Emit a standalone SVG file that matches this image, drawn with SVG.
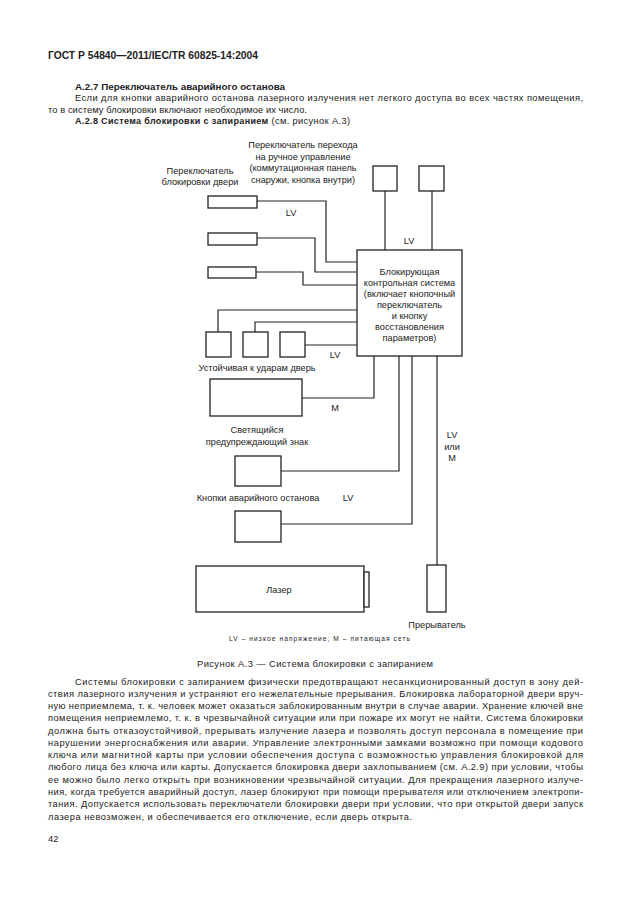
<svg xmlns="http://www.w3.org/2000/svg" width="630" height="913" viewBox="0 0 630 913">
<style>
text{font-family:"Liberation Sans","Noto Sans",sans-serif;fill:#222}
.h{font-size:10.5px;font-weight:bold}
.b{font-size:9px;font-weight:bold}
.t{font-size:9.3px}
.d{font-size:9.2px;text-anchor:middle}
.lg{font-size:6.6px}
.cap{font-size:9.4px;text-anchor:middle}
.box{fill:#fff;stroke:#222;stroke-width:1.3}
.w{fill:none;stroke:#222;stroke-width:1.2}
</style>
<rect width="630" height="913" fill="#fff"/>
<g id="header">
<text class="h" x="48" y="59" textLength="210" lengthAdjust="spacingAndGlyphs">ГОСТ Р 54840—2011/IEC/TR 60825-14:2004</text>
<text class="b" x="75" y="89.5" textLength="210" lengthAdjust="spacingAndGlyphs">А.2.7 Переключатель аварийного останова</text>
<text class="t" x="75" y="101" textLength="508" lengthAdjust="spacing">Если для кнопки аварийного останова лазерного излучения нет легкого доступа во всех частях помещения,</text>
<text class="t" x="48" y="112.5" textLength="259" lengthAdjust="spacing">то в систему блокировки включают необходимое их число.</text>
<text x="75" y="124" textLength="275" lengthAdjust="spacing"><tspan class="b">А.2.8 Система блокировки с запиранием</tspan><tspan class="t"> (см. рисунок А.3)</tspan></text>
</g>
<g id="connectors">
<polyline class="w" points="385,191 385,250"/>
<polyline class="w" points="432,191 432,250"/>
<polyline class="w" points="257,201 326,201 326,262 357,262"/>
<polyline class="w" points="257,238 315,238 315,272 357,272"/>
<polyline class="w" points="256,272 303,272 303,285 357,285"/>
<polyline class="w" points="218,332 218,310 357,310"/>
<polyline class="w" points="255,332 255,322 357,322"/>
<polyline class="w" points="305,345 357,345"/>
<polyline class="w" points="374,356 374,398 302,398"/>
<polyline class="w" points="399,356 399,471 281,471"/>
<polyline class="w" points="412,356 412,524 281,524"/>
<polyline class="w" points="437,356 437,565"/>
</g>
<g id="override-switch-1"><rect class="box" x="373" y="166" width="24" height="25"/></g>
<g id="override-switch-2"><rect class="box" x="419" y="166" width="25" height="25"/></g>
<g id="override-label">
<text class="d" x="303" y="148">Переключатель перехода</text>
<text class="d" x="303" y="159.5">на ручное управление</text>
<text class="d" x="303" y="171">(коммутационная панель</text>
<text class="d" x="303" y="182.5">снаружи, кнопка внутри)</text>
</g>
<g id="door-switch-label">
<text class="d" x="200" y="173.5">Переключатель</text>
<text class="d" x="200" y="185">блокировки двери</text>
</g>
<g id="door-switch-1"><rect class="box" x="208" y="196" width="49" height="12"/></g>
<g id="door-switch-2"><rect class="box" x="208" y="233" width="49" height="12"/></g>
<g id="door-switch-3"><rect class="box" x="208" y="267" width="48" height="11"/></g>
<g id="control-system">
<rect class="box" x="357" y="250" width="105" height="106"/>
<text class="d" x="409.5" y="274.5">Блокирующая</text>
<text class="d" x="409.5" y="285.5">контрольная система</text>
<text class="d" x="409.5" y="296.5">(включает кнопочный</text>
<text class="d" x="409.5" y="307.5">переключатель</text>
<text class="d" x="409.5" y="318.5">и кнопку</text>
<text class="d" x="409.5" y="329.5">восстановления</text>
<text class="d" x="409.5" y="340.5">параметров)</text>
</g>
<g id="door-1"><rect class="box" x="206" y="332" width="25" height="25"/></g>
<g id="door-2"><rect class="box" x="243" y="332" width="25" height="25"/></g>
<g id="door-3"><rect class="box" x="280" y="332" width="25" height="25"/></g>
<g id="door-label"><text class="d" x="257" y="370.5">Устойчивая к ударам дверь</text></g>
<g id="warning-sign">
<rect class="box" x="210" y="379" width="92" height="37"/>
<text class="d" x="257" y="433">Светящийся</text>
<text class="d" x="257" y="444.5">предупреждающий знак</text>
</g>
<g id="estop-1"><rect class="box" x="235" y="456" width="46" height="30"/></g>
<g id="estop-label"><text class="d" x="258" y="501">Кнопки аварийного останова</text></g>
<g id="estop-2"><rect class="box" x="235" y="511" width="46" height="31"/></g>
<g id="laser">
<rect class="box" x="196" y="566" width="168" height="46"/>
<rect class="box" x="364" y="572" width="5" height="35"/>
<text class="d" x="279" y="593">Лазер</text>
</g>
<g id="interrupter">
<rect class="box" x="427" y="565" width="19" height="47"/>
<text class="d" x="437" y="628">Прерыватель</text>
</g>
<g id="wire-labels">
<text class="d" x="291" y="216">LV</text>
<text class="d" x="409" y="244">LV</text>
<text class="d" x="335" y="358">LV</text>
<text class="d" x="335" y="411">М</text>
<text class="d" x="348" y="501">LV</text>
<text class="d" x="452" y="438">LV</text>
<text class="d" x="452" y="449.5">или</text>
<text class="d" x="452" y="461">М</text>
</g>
<g id="legend"><text class="lg" x="229" y="641" textLength="181" lengthAdjust="spacing">LV – низкое напряжение; М – питающая сеть</text></g>
<g id="caption"><text class="cap" x="315" y="666.5" textLength="236" lengthAdjust="spacing">Рисунок А.3 — Система блокировки с запиранием</text></g>
<g id="body">
<text class="t" x="75" y="684.5" textLength="508" lengthAdjust="spacing">Системы блокировки с запиранием физически предотвращают несанкционированный доступ в зону дей-</text>
<text class="t" x="48" y="696.8" textLength="535" lengthAdjust="spacing">ствия лазерного излучения и устраняют его нежелательные прерывания. Блокировка лабораторной двери вруч-</text>
<text class="t" x="48" y="709" textLength="535" lengthAdjust="spacing">ную неприемлема, т. к. человек может оказаться заблокированным внутри в случае аварии. Хранение ключей вне</text>
<text class="t" x="48" y="721.3" textLength="535" lengthAdjust="spacing">помещения неприемлемо, т. к. в чрезвычайной ситуации или при пожаре их могут не найти. Система блокировки</text>
<text class="t" x="48" y="733.6" textLength="535" lengthAdjust="spacing">должна быть отказоустойчивой, прерывать излучение лазера и позволять доступ персонала в помещение при</text>
<text class="t" x="48" y="745.9" textLength="535" lengthAdjust="spacing">нарушении энергоснабжения или аварии. Управление электронными замками возможно при помощи кодового</text>
<text class="t" x="48" y="758.1" textLength="535" lengthAdjust="spacing">ключа или магнитной карты при условии обеспечения доступа с возможностью управления блокировкой для</text>
<text class="t" x="48" y="770.4" textLength="535" lengthAdjust="spacing">любого лица без ключа или карты. Допускается блокировка двери захлопыванием (см. А.2.9) при условии, чтобы</text>
<text class="t" x="48" y="782.7" textLength="535" lengthAdjust="spacing">ее можно было легко открыть при возникновении чрезвычайной ситуации. Для прекращения лазерного излуче-</text>
<text class="t" x="48" y="795" textLength="535" lengthAdjust="spacing">ния, когда требуется аварийный доступ, лазер блокируют при помощи прерывателя или отключением электропи-</text>
<text class="t" x="48" y="807.2" textLength="535" lengthAdjust="spacing">тания. Допускается использовать переключатели блокировки двери при условии, что при открытой двери запуск</text>
<text class="t" x="48" y="819.5" textLength="364" lengthAdjust="spacing">лазера невозможен, и обеспечивается его отключение, если дверь открыта.</text>
<text class="t" x="48" y="841.5">42</text>
</g>
</svg>
